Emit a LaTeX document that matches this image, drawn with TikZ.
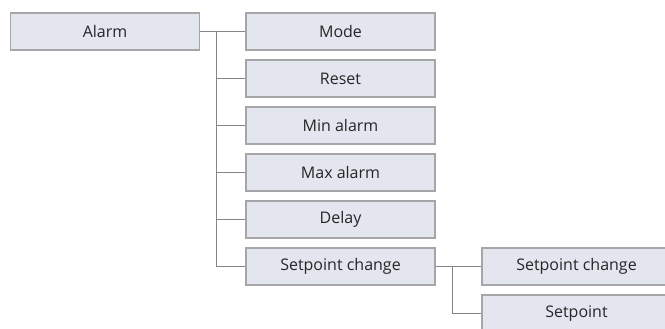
\documentclass[tikz,border=0pt]{standalone}
\usepackage{fontspec}
\setmainfont{Open Sans}
\definecolor{boxfill}{HTML}{E3E5EF}
\definecolor{boxline}{HTML}{A6A6A9}
\definecolor{conn}{HTML}{858585}
\begin{document}
\begin{tikzpicture}[x=1pt,y=-1pt,
  menubox/.style={draw=boxline, line width=1.3pt, fill=boxfill, minimum width=189pt, minimum height=37pt, inner sep=0pt, font=\fontsize{16}{19}\selectfont, text=black!85},
  link/.style={draw=conn, line width=1pt}]
\clip (0,0) rectangle (665,329);
\node[menubox] (alarm) at (105,31.5) {Alarm};
\node[menubox] (mode) at (340.5,31.5) {Mode};
\node[menubox] (reset) at (340.5,78.5) {Reset};
\node[menubox] (min) at (340.5,125.5) {Min alarm};
\node[menubox] (max) at (340.5,172.5) {Max alarm};
\node[menubox] (delay) at (340.5,219.5) {Delay};
\node[menubox] (spc) at (340.5,266.5) {Setpoint change};
\node[menubox] (spc2) at (576.5,266.5) {Setpoint change};
\node[menubox] (sp) at (576.5,313.5) {Setpoint};
\coordinate (j1) at (216.5,31.5);
\coordinate (j2) at (452.5,266.5);
\draw[link] (alarm.east) -- (mode.west);
\draw[link] (j1) |- (reset.west);
\draw[link] (j1) |- (min.west);
\draw[link] (j1) |- (max.west);
\draw[link] (j1) |- (delay.west);
\draw[link] (j1) |- (spc.west);
\draw[link] (spc.east) -- (spc2.west);
\draw[link] (j2) |- (sp.west);
\end{tikzpicture}
\end{document}
